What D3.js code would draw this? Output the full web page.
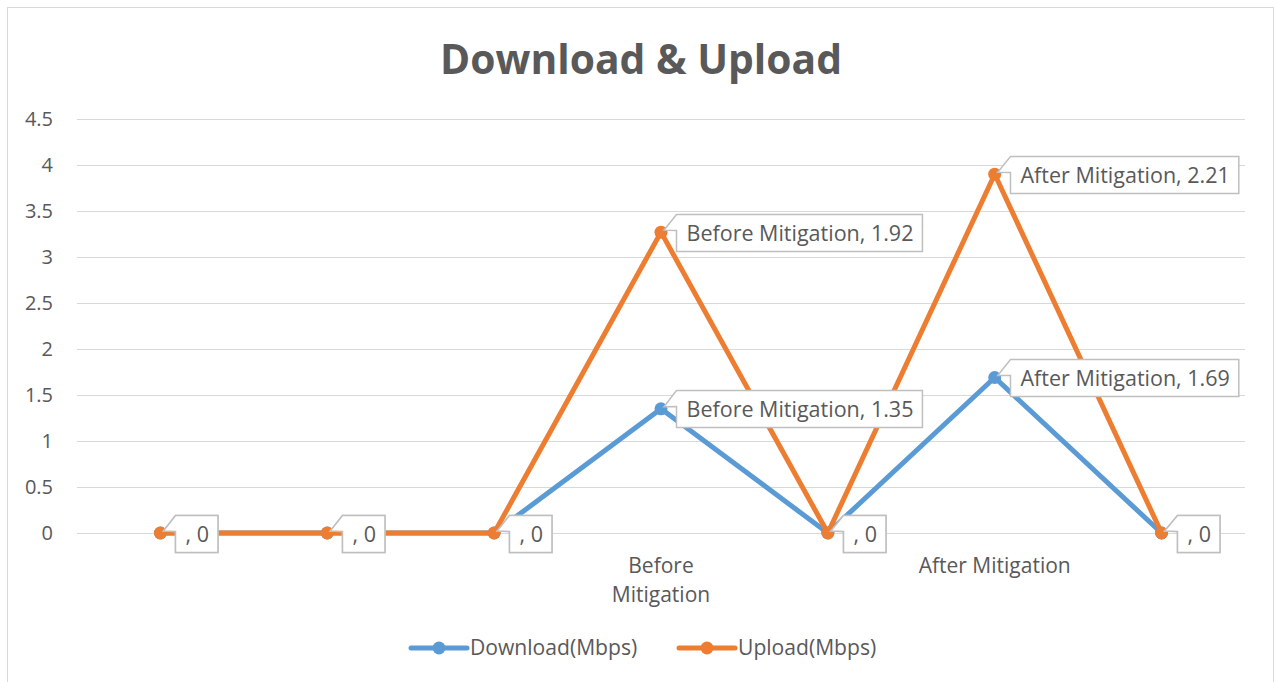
<!DOCTYPE html>
<html>
<head>
<meta charset="utf-8">
<script src="https://cdn.jsdelivr.net/npm/d3@7"></script>
<style>
  html, body { margin: 0; padding: 0; background: #fff; }
  svg { display: block; }
  text { font-family: "Open Sans", "Noto Sans", sans-serif; fill: #595959; }
</style>
</head>
<body>
<svg id="chart" width="1277" height="682"></svg>
<script>
// Measurement categories (only two are named)
const categories = ["", "", "", "Before Mitigation", "", "After Mitigation", ""];
// Throughput per category, Mbps
const download = [0, 0, 0, 1.35, 0, 1.69, 0];
const upload = [0, 0, 0, 1.92, 0, 2.21, 0];
const seriesNames = ["Download(Mbps)", "Upload(Mbps)"];
const seriesColors = ["#5B9BD5", "#ED7D31"];
const yTicks = [0, 0.5, 1, 1.5, 2, 2.5, 3, 3.5, 4, 4.5];
const title = "Download & Upload";

const svg = d3.select("#chart");
const plot = { left: 77, right: 1245, top: 119, bottom: 533 };

// Outer chart frame
svg.append("rect")
  .attr("x", 7.5).attr("y", 7.5)
  .attr("width", 1266).attr("height", 700)
  .attr("fill", "#fff").attr("stroke", "#d9d9d9").attr("stroke-width", 1);

svg.append("text")
  .attr("x", 641).attr("y", 74)
  .attr("text-anchor", "middle")
  .style("font-size", "40.8px").style("font-weight", "700")
  .text(title);

const idx = categories.map((_, i) => i);
const x = d3.scalePoint().domain(idx).range([plot.left, plot.right]).padding(0.5);
const y = d3.scaleLinear().domain([0, 4.5]).range([plot.bottom, plot.top]);

// Stacked line layout: upload sits on top of download
const rows = idx.map(i => ({ i, d: download[i], u: upload[i] }));
const stacked = d3.stack().keys(["d", "u"])(rows);
const raw = [download, upload];

// Horizontal gridlines
svg.append("g").selectAll("line").data(yTicks).join("line")
  .attr("x1", plot.left).attr("x2", plot.right)
  .attr("y1", d => Math.round(y(d)) + 0.5).attr("y2", d => Math.round(y(d)) + 0.5)
  .attr("stroke", "#d9d9d9").attr("stroke-width", 1);

// Y-axis tick labels
const yAxis = d3.axisLeft(y).tickValues(yTicks).tickSize(0).tickPadding(0)
  .tickFormat(d => d3.format("~g")(d));
const yg = svg.append("g").attr("transform", `translate(53,0)`).call(yAxis);
yg.select(".domain").remove();
yg.selectAll("text").style("font-size", "20px").style("font-family", null).attr("fill", "#595959");

// X-axis category labels, wrapped to the band width
const band = x.step();
const xg = svg.append("g");
categories.forEach((c, i) => {
  if (!c) return;
  const t = xg.append("text").attr("text-anchor", "middle").style("font-size", "21px");
  const words = c.split(" ");
  let lines = [], cur = "";
  const probe = xg.append("text").style("font-size", "21px");
  words.forEach(w => {
    const trial = cur ? cur + " " + w : w;
    probe.text(trial);
    if (probe.node().getComputedTextLength() > band - 2 && cur) { lines.push(cur); cur = w; }
    else cur = trial;
  });
  lines.push(cur);
  probe.remove();
  lines.forEach((ln, k) => {
    t.append("tspan").attr("x", x(i)).attr("y", 573 + k * 29).text(ln);
  });
});

// Series lines
const line = d3.line().x((d, i) => x(i)).y(d => y(d[1]));
stacked.forEach((s, k) => {
  svg.append("path").datum(s)
    .attr("fill", "none").attr("stroke", seriesColors[k])
    .attr("stroke-width", 5).attr("stroke-linejoin", "round")
    .attr("d", line);
});
stacked.forEach((s, k) => {
  svg.append("g").selectAll("circle").data(s).join("circle")
    .attr("cx", (d, i) => x(i)).attr("cy", d => y(d[1]))
    .attr("r", 6.5).attr("fill", seriesColors[k]);
});

// Callout data labels: "category, value"
const labelG = svg.append("g");
stacked.forEach((s, k) => {
  s.forEach((d, i) => {
    const px = x(i), py = y(d[1]);
    const txt = categories[i] + ", " + d3.format("~g")(raw[k][i]);
    const g = labelG.append("g");
    const path = g.append("path");
    const t = g.append("text").style("font-size", "21.5px").text(txt);
    const tw = t.node().getComputedTextLength();
    const left = Math.round(px + 15) + 0.5;
    const h = 37, w = tw + 19;
    const top = Math.round(py - h / 2) + 0.5;
    t.attr("x", left + 10).attr("y", top + 26);
    path.attr("d", `M${left},${top} L${left + w},${top} L${left + w},${top + h} L${left},${top + h} L${left},${top + 16} L${px + 3},${py - 2} Z`)
      .attr("fill", "#fff").attr("stroke", "#bfbfbf").attr("stroke-width", 1.5);
  });
});

// Legend
const legend = svg.append("g");
const legendItems = [{ x0: 411, name: seriesNames[0], color: seriesColors[0] },
                     { x0: 679, name: seriesNames[1], color: seriesColors[1] }];
legendItems.forEach(it => {
  legend.append("line").attr("x1", it.x0).attr("x2", it.x0 + 56)
    .attr("y1", 648).attr("y2", 648)
    .attr("stroke", it.color).attr("stroke-width", 5).attr("stroke-linecap", "round");
  legend.append("circle").attr("cx", it.x0 + 28).attr("cy", 648).attr("r", 6.5).attr("fill", it.color);
  legend.append("text").attr("x", it.x0 + 59).attr("y", 655).style("font-size", "21.1px").text(it.name);
});
</script>
</body>
</html>
